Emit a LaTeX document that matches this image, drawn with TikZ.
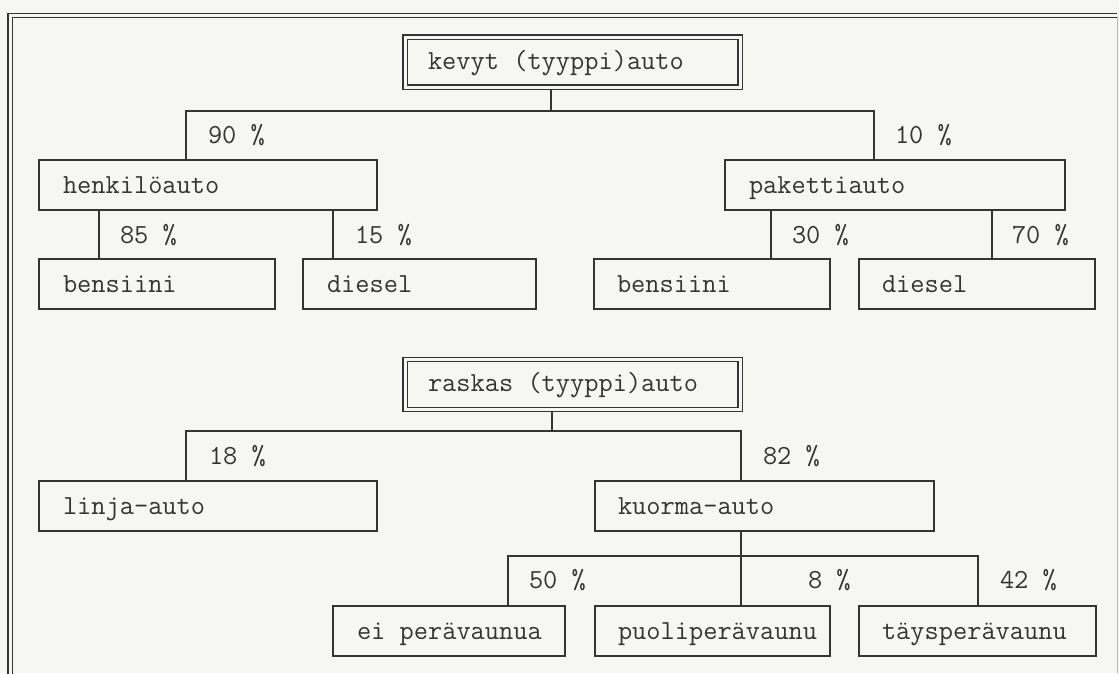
\documentclass[tikz,border=0pt]{standalone}
\usepackage{fontspec}
\definecolor{paper}{RGB}{246,246,242}
\definecolor{ink}{RGB}{52,52,52}
\newcommand\cell[3]{\makebox[#1][l]{\hspace{#2}#3}}
\tikzset{
  every node/.style={font=\ttfamily\fontsize{27.6}{32}\selectfont, text=ink},
  box/.style={draw=ink, line width=1.5pt, inner sep=0pt, outer sep=0pt,
    anchor=north west, minimum height=50pt, text height=33pt, text depth=17pt},
  topbox/.style={box, double=paper, double distance=3pt, line width=1.1pt,
    text height=32pt, text depth=18pt},
  conn/.style={draw=ink, line width=1.4pt},
  pct/.style={anchor=base west, inner sep=0pt, outer sep=0pt},
}
\begin{document}
\begin{tikzpicture}[x=1pt, y=-1pt]
  \useasboundingbox (0,0) rectangle (1119,673);
  \fill[paper] (0,0) rectangle (1119,673);

  % outer frame
  \draw[ink, double=paper, double distance=3pt, line width=1.1pt]
    (10,680) -- (10,15.5) -- (1117,15.5);
  \draw[ink!35, line width=0.8pt] (1117.5,15.5) -- (1117.5,673);

  % light vehicles
  \node[topbox] (kevyt) at (405,37) {\cell{335pt}{23pt}{kevyt (tyyppi)auto}};
  \node[box] (henk)  at (39,160)  {\cell{338pt}{24pt}{henkilöauto}};
  \node[box] (pak)   at (725,160) {\cell{340pt}{24pt}{pakettiauto}};
  \node[box] (bensA) at (39,259)  {\cell{236pt}{24pt}{bensiini}};
  \node[box] (dieA)  at (303,259) {\cell{233pt}{24pt}{diesel}};
  \node[box] (bensB) at (594,259) {\cell{236pt}{23pt}{bensiini}};
  \node[box] (dieB)  at (859,259) {\cell{236pt}{23pt}{diesel}};

  % heavy vehicles
  \node[topbox] (raskas) at (405,359.5) {\cell{335pt}{23pt}{raskas (tyyppi)auto}};
  \node[box] (linja)  at (39,481)  {\cell{338pt}{24pt}{linja-auto}};
  \node[box] (kuorma) at (595,481) {\cell{339pt}{23pt}{kuorma-auto}};
  \node[box] (ei)     at (333,606) {\cell{232pt}{24pt}{ei perävaunua}};
  \node[box] (puoli)  at (595,606) {\cell{235pt}{23pt}{puoliperävaunu}};
  \node[box] (tays)   at (859,606) {\cell{237pt}{23pt}{täysperävaunu}};

  % connectors: light vehicles
  \coordinate (kb) at (551,111);
  \draw[conn] ([xshift=146pt,yshift=-2.6pt]kevyt.south west) -- (kb);
  \draw[conn] ([xshift=147pt]henk.north west) |- (kb) -| ([xshift=149pt]pak.north west);
  \coordinate (h1) at ([xshift=60pt]bensA.north west);
  \coordinate (h2) at ([xshift=30pt]dieA.north west);
  \coordinate (p1) at ([xshift=177pt]bensB.north west);
  \coordinate (p2) at ([xshift=133pt]dieB.north west);
  \draw[conn] (h1) -- (h1 |- henk.south);
  \draw[conn] (h2) -- (h2 |- henk.south);
  \draw[conn] (p1) -- (p1 |- pak.south);
  \draw[conn] (p2) -- (p2 |- pak.south);

  % connectors: heavy vehicles
  \coordinate (rb) at (552,431);
  \draw[conn] ([xshift=147pt,yshift=-2.6pt]raskas.south west) -- (rb);
  \draw[conn] ([xshift=147pt]linja.north west) |- (rb) -| ([xshift=146pt]kuorma.north west);
  \coordinate (kub) at (741,556);
  \draw[conn] ([xshift=146pt]kuorma.south west) -- ([xshift=146pt]puoli.north west);
  \draw[conn] ([xshift=175pt]ei.north west) |- (kub) -| ([xshift=119pt]tays.north west);

  % shares
  \node[pct] (s90) at (208,143)  {90 \%};
  \node[pct] (s10) at (895,143)  {10 \%};
  \node[pct] (s85) at (120,243)  {85 \%};
  \node[pct] (s15) at (355,243)  {15 \%};
  \node[pct] (s30) at (792,243)  {30 \%};
  \node[pct] (s70) at (1012,243) {70 \%};
  \node[pct] (s18) at (209,464)  {18 \%};
  \node[pct] (s82) at (763,464)  {82 \%};
  \node[pct] (s50) at (529,588)  {50 \%};
  \node[pct] (s8)  at (808,588)  {8 \%};
  \node[pct] (s42) at (1000,588) {42 \%};
\end{tikzpicture}
\end{document}
